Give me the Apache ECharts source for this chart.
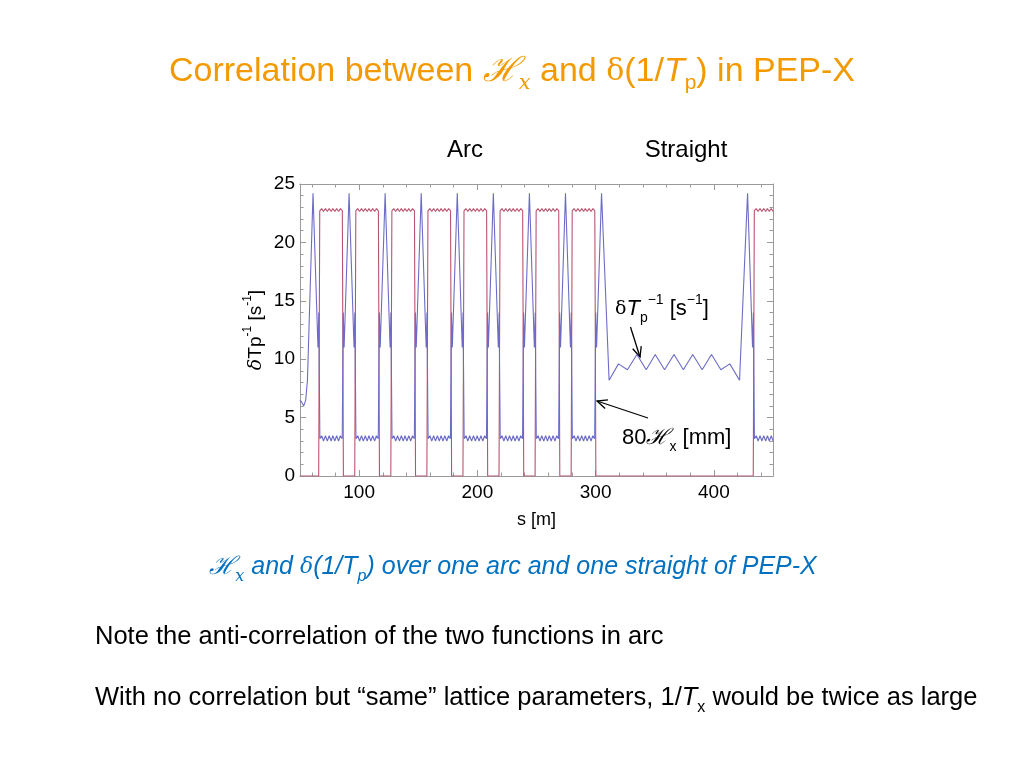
<!DOCTYPE html>
<html>
<head>
<meta charset="utf-8">
<title>Hx and dTp in PEP-X</title>
<script src="https://cdn.jsdelivr.net/npm/echarts@6.0.0/dist/echarts.min.js"></script>
<style>
  html, body { margin: 0; padding: 0; background: #fff; }
  #chart { width: 1024px; height: 768px; }
</style>
</head>
<body>
<div id="chart"></div>
<script>
// Axis ticks (s in m)
const xMajorTicks = [100, 200, 300, 400];
const xMinorTicks = [60, 80, 120, 140, 160, 180, 220, 240, 260, 280, 320, 340, 360, 380, 420, 440];

// 80*Hx [mm]: [s, value]
const hxArc = [
    [50, 6.5], [51.5, 6.3], [53.2, 6.0], [54.8, 6.5], [56.3, 8.2], [61, 24.2], [65.2, 11], [65.9, 14], [66.8, 3.2],
    [68.4, 3.45], [69.9, 3.0], [71.5, 3.45], [73.1, 3.0], [74.7, 3.45], [76.3, 3.0], [77.8, 3.45], [79.4, 3.0], [81.0, 3.45], [82.6, 3.0], [84.1, 3.45], [85.7, 3.2],
    [86.6, 14], [87.3, 11], [91.5, 24.2], [95.7, 11], [96.4, 14], [97.3, 3.2],
    [98.9, 3.45], [100.4, 3.0], [102.0, 3.45], [103.6, 3.0], [105.2, 3.45], [106.8, 3.0], [108.3, 3.45], [109.9, 3.0], [111.5, 3.45], [113.1, 3.0], [114.6, 3.45], [116.2, 3.2],
    [117.1, 14], [117.8, 11], [122, 24.2], [126.2, 11], [126.9, 14], [127.8, 3.2],
    [129.4, 3.45], [130.9, 3.0], [132.5, 3.45], [134.1, 3.0], [135.7, 3.45], [137.3, 3.0], [138.8, 3.45], [140.4, 3.0], [142.0, 3.45], [143.6, 3.0], [145.1, 3.45], [146.7, 3.2],
    [147.6, 14], [148.3, 11], [152.5, 24.2], [156.7, 11], [157.4, 14], [158.3, 3.2],
    [159.9, 3.45], [161.4, 3.0], [163.0, 3.45], [164.6, 3.0], [166.2, 3.45], [167.8, 3.0], [169.3, 3.45], [170.9, 3.0], [172.5, 3.45], [174.1, 3.0], [175.6, 3.45], [177.2, 3.2],
    [178.1, 14], [178.8, 11], [183, 24.2], [187.2, 11], [187.9, 14], [188.8, 3.2],
    [190.4, 3.45], [191.9, 3.0], [193.5, 3.45], [195.1, 3.0], [196.7, 3.45], [198.3, 3.0], [199.8, 3.45], [201.4, 3.0], [203.0, 3.45], [204.6, 3.0], [206.1, 3.45], [207.7, 3.2],
    [208.6, 14], [209.3, 11], [213.5, 24.2], [217.7, 11], [218.4, 14], [219.3, 3.2],
    [220.9, 3.45], [222.4, 3.0], [224.0, 3.45], [225.6, 3.0], [227.2, 3.45], [228.8, 3.0], [230.3, 3.45], [231.9, 3.0], [233.5, 3.45], [235.1, 3.0], [236.6, 3.45], [238.2, 3.2],
    [239.1, 14], [239.8, 11], [244, 24.2], [248.2, 11], [248.9, 14], [249.8, 3.2],
    [251.4, 3.45], [252.9, 3.0], [254.5, 3.45], [256.1, 3.0], [257.7, 3.45], [259.3, 3.0], [260.8, 3.45], [262.4, 3.0], [264.0, 3.45], [265.6, 3.0], [267.1, 3.45], [268.7, 3.2],
    [269.6, 14], [270.3, 11], [274.5, 24.2], [278.7, 11], [279.4, 14], [280.3, 3.2],
    [281.9, 3.45], [283.4, 3.0], [285.0, 3.45], [286.6, 3.0], [288.2, 3.45], [289.8, 3.0], [291.3, 3.45], [292.9, 3.0], [294.5, 3.45], [296.1, 3.0], [297.6, 3.45], [299.2, 3.2],
    [300.1, 14], [300.8, 11], [305, 24.2]
];
const hxStraight = [
    [311.4, 8.2], [319.3, 9.6], [326.9, 9.1], [334.9, 10.4], [342.8, 9.1], [350.4, 10.4], [358.3, 9.1], [366.3, 10.4],
    [374.2, 9.1], [382.1, 10.4], [390.1, 9.1], [398.0, 10.4], [405.9, 9.1], [413.5, 9.6], [421.7, 8.2]
];
const hxNextArc = [
    [428.5, 24.2], [432.7, 11], [433.4, 14], [434.3, 3.2],
    [435.9, 3.45], [437.4, 3.0], [439.0, 3.45], [440.6, 3.0], [442.2, 3.45], [443.8, 3.0], [445.3, 3.45], [446.9, 3.0], [448.5, 3.45], [450.1, 3.0]
];

// dTp^-1 [s^-1]: [s, value]
const tpArc = [
    [50, 0], [65.8, 0], [66.7, 22.7], [68.3, 22.9], [69.9, 22.65], [71.5, 22.9], [73.1, 22.65], [74.7, 22.9], [76.3, 22.65], [77.8, 22.9], [79.4, 22.65], [81.0, 22.9], [82.6, 22.65], [84.2, 22.9], [85.8, 22.7], [86.7, 0],
    [96.3, 0], [97.2, 22.7], [98.8, 22.9], [100.4, 22.65], [102.0, 22.9], [103.6, 22.65], [105.2, 22.9], [106.8, 22.65], [108.3, 22.9], [109.9, 22.65], [111.5, 22.9], [113.1, 22.65], [114.7, 22.9], [116.3, 22.7], [117.2, 0],
    [126.8, 0], [127.7, 22.7], [129.3, 22.9], [130.9, 22.65], [132.5, 22.9], [134.1, 22.65], [135.7, 22.9], [137.3, 22.65], [138.8, 22.9], [140.4, 22.65], [142.0, 22.9], [143.6, 22.65], [145.2, 22.9], [146.8, 22.7], [147.7, 0],
    [157.3, 0], [158.2, 22.7], [159.8, 22.9], [161.4, 22.65], [163.0, 22.9], [164.6, 22.65], [166.2, 22.9], [167.8, 22.65], [169.3, 22.9], [170.9, 22.65], [172.5, 22.9], [174.1, 22.65], [175.7, 22.9], [177.3, 22.7], [178.2, 0],
    [187.8, 0], [188.7, 22.7], [190.3, 22.9], [191.9, 22.65], [193.5, 22.9], [195.1, 22.65], [196.7, 22.9], [198.3, 22.65], [199.8, 22.9], [201.4, 22.65], [203.0, 22.9], [204.6, 22.65], [206.2, 22.9], [207.8, 22.7], [208.7, 0],
    [218.3, 0], [219.2, 22.7], [220.8, 22.9], [222.4, 22.65], [224.0, 22.9], [225.6, 22.65], [227.2, 22.9], [228.8, 22.65], [230.3, 22.9], [231.9, 22.65], [233.5, 22.9], [235.1, 22.65], [236.7, 22.9], [238.3, 22.7], [239.2, 0],
    [248.8, 0], [249.7, 22.7], [251.3, 22.9], [252.9, 22.65], [254.5, 22.9], [256.1, 22.65], [257.7, 22.9], [259.3, 22.65], [260.8, 22.9], [262.4, 22.65], [264.0, 22.9], [265.6, 22.65], [267.2, 22.9], [268.8, 22.7], [269.7, 0],
    [279.3, 0], [280.2, 22.7], [281.8, 22.9], [283.4, 22.65], [285.0, 22.9], [286.6, 22.65], [288.2, 22.9], [289.8, 22.65], [291.3, 22.9], [292.9, 22.65], [294.5, 22.9], [296.1, 22.65], [297.7, 22.9], [299.3, 22.7], [300.2, 0]
];
const tpStraight = [[300.2, 0], [433.3, 0]];
const tpNextArc = [
    [434.2, 22.7], [435.8, 22.9], [437.4, 22.65], [439.0, 22.9], [440.6, 22.65], [442.2, 22.9], [443.8, 22.65], [445.3, 22.9], [446.9, 22.65], [448.5, 22.9], [450.1, 22.65]
];

const FONT = '"Liberation Sans", Arial, Helvetica, sans-serif';
const SERIF = '"DejaVu Serif", serif';
const AXIS_GREY = '#9a9a9a';
const BLUE = '#6c6cc6';
const RED = '#b9536f';

// rich styles shared by the text pieces (sub/superscripts, script H)
function richSet(size, color, italic) {
    const st = italic ? 'italic' : 'normal';
    const small = Math.round(size * 0.62);
    return {
        h: { fontFamily: SERIF, fontStyle: 'italic', fontSize: size, fill: color, color: color, lineHeight: size + 10 },
        dl: { fontFamily: SERIF, fontStyle: st, fontSize: Math.round(size * 0.88), fill: color, color: color, lineHeight: size + 10 },
        t: { fontFamily: FONT, fontStyle: 'italic', fontSize: size, fill: color, color: color, lineHeight: size + 10 },
        sub: { fontFamily: FONT, fontStyle: st, fontSize: small, fill: color, color: color, lineHeight: small + 2, verticalAlign: 'bottom' },
        subi: { fontFamily: SERIF, fontStyle: 'italic', fontSize: small, fill: color, color: color, lineHeight: small + 2, verticalAlign: 'bottom' },
        sup: { fontFamily: FONT, fontStyle: st, fontSize: small, fill: color, color: color, lineHeight: small + 6, verticalAlign: 'top' }
    };
}

function label(x, y, text, size, color, opts = {}) {
    return {
        type: 'text',
        x: x,
        y: y,
        style: {
            text: text,
            fontFamily: FONT,
            fontSize: size,
            fontStyle: opts.italic ? 'italic' : 'normal',
            fill: color,
            align: opts.align || 'left',
            verticalAlign: 'middle',
            lineHeight: size + 10,
            rich: richSet(size, color, opts.italic)
        }
    };
}

function arrow(x1, y1, x2, y2) {
    const a = Math.atan2(y2 - y1, x2 - x1);
    const len = 11, spread = 0.42;
    return {
        type: 'group',
        children: [
            { type: 'line', shape: { x1: x1, y1: y1, x2: x2, y2: y2 }, style: { stroke: '#000', lineWidth: 1.3 } },
            {
                type: 'polyline',
                shape: {
                    points: [
                        [x2 - len * Math.cos(a - spread), y2 - len * Math.sin(a - spread)],
                        [x2, y2],
                        [x2 - len * Math.cos(a + spread), y2 - len * Math.sin(a + spread)]
                    ]
                },
                style: { stroke: '#000', fill: null, lineWidth: 1.3 }
            }
        ]
    };
}

function xAxisDef(position, ticks, withLabels, tickLen) {
    return {
        type: 'value',
        position: position,
        min: 50,
        max: 450,
        name: withLabels ? 's [m]' : '',
        nameLocation: 'middle',
        nameGap: 35,
        nameTextStyle: { fontFamily: FONT, fontSize: 18, color: '#000' },
        axisLine: { show: true, onZero: false, lineStyle: { color: AXIS_GREY, width: 1 } },
        axisTick: { show: true, inside: true, length: tickLen, customValues: ticks, lineStyle: { color: AXIS_GREY } },
        axisLabel: {
            show: withLabels,
            customValues: ticks,
            margin: 7,
            fontFamily: FONT,
            fontSize: 19,
            color: '#000'
        },
        splitLine: { show: false }
    };
}

function yAxisDef(position, withLabels) {
    return {
        type: 'value',
        position: position,
        min: 0,
        max: 25,
        interval: 5,
        name: withLabels ? '{dl|δ}Tp{sup|-1} [s{sup|-1}]' : '',
        nameLocation: 'middle',
        nameRotate: 90,
        nameGap: 30,
        nameTextStyle: {
            fontFamily: FONT, fontSize: 19, color: '#000', lineHeight: 28,
            rich: {
                dl: { fontFamily: SERIF, fontStyle: 'italic', fontSize: 19, color: '#000', lineHeight: 28 },
                sup: { fontFamily: FONT, fontSize: 12, color: '#000', lineHeight: 18, verticalAlign: 'top' }
            }
        },
        axisLine: { show: true, onZero: false, lineStyle: { color: AXIS_GREY, width: 1 } },
        axisTick: { show: true, inside: true, length: 6, lineStyle: { color: AXIS_GREY } },
        minorTick: { show: true, splitNumber: 5, length: 3.5, lineStyle: { color: AXIS_GREY } },
        axisLabel: { show: withLabels, margin: 5, fontFamily: FONT, fontSize: 19, color: '#000' },
        splitLine: { show: false },
        minorSplitLine: { show: false }
    };
}

const chart = echarts.init(document.getElementById('chart'), null, { renderer: 'canvas' });

const option = {
    backgroundColor: '#fff',
    animation: false,
    grid: { left: 300, top: 184, width: 473, height: 292, containLabel: false },
    xAxis: [
        xAxisDef('bottom', xMajorTicks, true, 6),
        xAxisDef('bottom', xMinorTicks, false, 3.5),
        xAxisDef('top', xMajorTicks, false, 6),
        xAxisDef('top', xMinorTicks, false, 3.5)
    ],
    yAxis: [yAxisDef('left', true), yAxisDef('right', false)],
    series: [
        {
            name: 'dTp',
            type: 'line',
            xAxisIndex: 0,
            yAxisIndex: 0,
            data: tpArc.concat(tpStraight, tpNextArc),
            showSymbol: false,
            clip: true,
            lineStyle: { color: RED, width: 1.1 }
        },
        {
            name: '80Hx',
            type: 'line',
            xAxisIndex: 0,
            yAxisIndex: 0,
            data: hxArc.concat(hxStraight, hxNextArc),
            showSymbol: false,
            clip: true,
            lineStyle: { color: BLUE, width: 1.1 }
        }
    ],
    graphic: [
        label(512, 72, 'Correlation between {h|ℋ}{subi|x} and {dl|δ}(1/{t|T}{sub|p}) in PEP-X', 34, '#F39A00', { align: 'center' }),
        label(465, 150, 'Arc', 24, '#000', { align: 'center' }),
        label(686, 150, 'Straight', 24, '#000', { align: 'center' }),
        label(615, 309, '{dl|δ}{t|T}{sub|p}{sup|−1} [s{sup|−1}]', 22, '#000'),
        arrow(630.5, 327, 640, 357),
        label(622, 438, '80{h|ℋ}{sub|x} [mm]', 22, '#000'),
        arrow(648, 418, 597, 401),
        label(513, 567, '{h|ℋ}{subi|x} and {dl|δ}(1/T{sub|p}) over one arc and one straight of PEP-X', 25, '#0070C0', { align: 'center', italic: true }),
        label(95, 637, 'Note the anti-correlation of the two functions in arc', 25.5, '#000'),
        label(95, 698, 'With no correlation but “same” lattice parameters, 1/{t|T}{sub|x} would be twice as large', 25.5, '#000')
    ]
};

chart.setOption(option);
</script>
</body>
</html>
